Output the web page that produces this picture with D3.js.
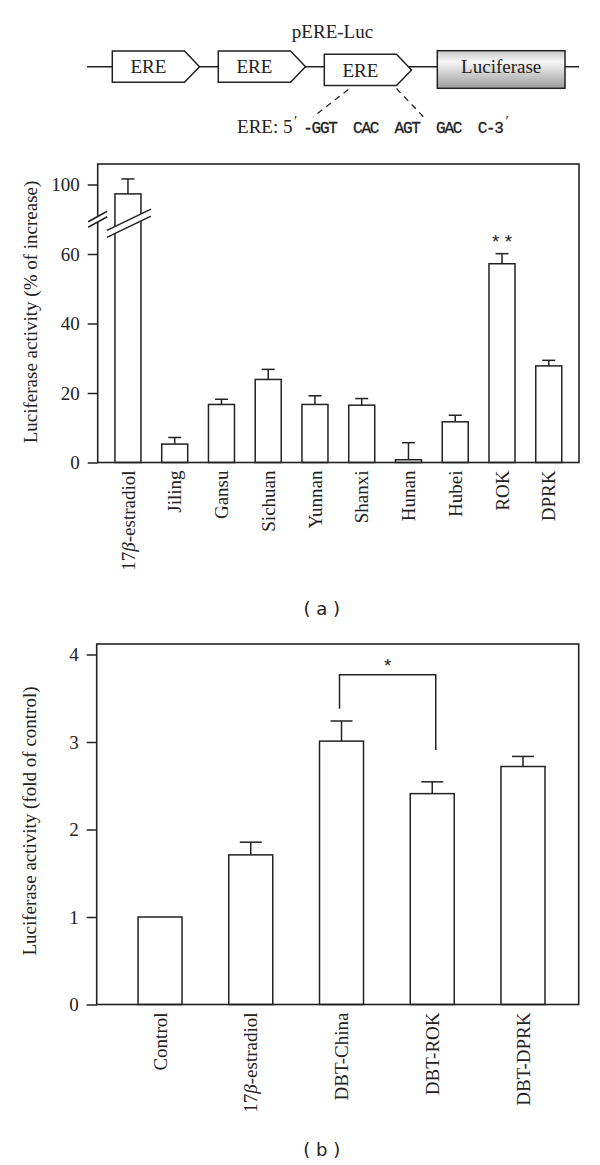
<!DOCTYPE html>
<html><head><meta charset="utf-8">
<script src="https://cdn.jsdelivr.net/npm/d3@7"></script>
<style>body{margin:0;background:#fff}svg{display:block}</style>
</head><body>
<svg id="c" width="600" height="1165"></svg>
<script>
// ---------- data ----------
const catsA = ["17β-estradiol","Jiling","Gansu","Sichuan","Yunnan","Shanxi","Hunan","Hubei","ROK","DPRK"];
const valsA = [97.3, 5.3, 16.7, 23.9, 16.7, 16.5, 0.8, 11.7, 57.2, 27.8];
const errA  = [4.3, 1.9, 1.5, 2.9, 2.5, 1.9, 4.9, 1.9, 2.9, 1.6];
const ticksA = [0, 20, 40, 60, 100];
const starsA = [{cat:"ROK", value:64.7, label:"* *"}];

const catsB = ["Control","17β-estradiol","DBT-China","DBT-ROK","DBT-DPRK"];
const valsB = [1.0, 1.71, 3.01, 2.41, 2.72];
const errB  = [0, 0.145, 0.23, 0.135, 0.115];
const ticksB = [0, 1, 2, 3, 4];
const bracketB = {from:"DBT-China", to:"DBT-ROK", top:3.77, leftEnd:3.38, rightEnd:2.91, starAt:3.92, label:"*"};

const constructParts = ["ERE","ERE","ERE","Luciferase"];
const constructName = "pERE-Luc";
const ereSeq = "-GGT  CAC  AGT  GAC  C-3";

// ---------- setup ----------
const svg = d3.select("#c");
const ink = "#222";
const serif = "'Liberation Serif','Times New Roman',serif";
const sans = "'DejaVu Sans',Verdana,sans-serif";

function labelText(sel, s){
  const parts = s.split("β");
  sel.text(null);
  parts.forEach((p,i)=>{
    if(i>0) sel.append("tspan").attr("font-style","italic").text("β");
    if(p) sel.append("tspan").text(p);
  });
}

// ---------- construct diagram ----------
const defs = svg.append("defs");
const lg = defs.append("linearGradient").attr("id","lucg").attr("x1",0).attr("y1",0).attr("x2",0).attr("y2",1);
lg.append("stop").attr("offset","0%").attr("stop-color","#c9c9c9");
lg.append("stop").attr("offset","30%").attr("stop-color","#f6f6f6");
lg.append("stop").attr("offset","100%").attr("stop-color","#9c9c9c");

const dg = svg.append("g");
dg.append("line").attr("x1",87).attr("x2",579).attr("y1",66.7).attr("y2",66.7)
  .attr("stroke",ink).attr("stroke-width",1.5);
dg.append("text").attr("x",332.5).attr("y",37.5).attr("text-anchor","middle")
  .attr("font-family",serif).attr("font-size",19).attr("fill",ink).text(constructName);

constructParts.forEach((name,i)=>{
  if(name === "ERE"){
    const x0 = 112.3 + i*106, w = 87.2, tipW = 15, h = 31.3;
    const dy = i===2 ? 3.3 : 0;
    const top = 51 + dy, bot = top + h, mid = (top+bot)/2;
    dg.append("path")
      .attr("d",`M${x0},${top}L${x0+w-tipW},${top}L${x0+w},${mid}L${x0+w-tipW},${bot}L${x0},${bot}Z`)
      .attr("fill","#fff").attr("stroke",ink).attr("stroke-width",1.5);
    dg.append("text").attr("x",x0+(w-tipW)/2).attr("y",mid+6.6).attr("text-anchor","middle")
      .attr("font-family",serif).attr("font-size",19).attr("fill",ink).text(name);
  } else {
    dg.append("rect").attr("x",437.3).attr("y",50.7).attr("width",127.7).attr("height",37.6)
      .attr("fill","url(#lucg)").attr("stroke",ink).attr("stroke-width",1.5);
    dg.append("text").attr("x",501.2).attr("y",72.7).attr("text-anchor","middle")
      .attr("font-family",serif).attr("font-size",19).attr("fill",ink).text(name);
  }
});
// dashed zoom lines from third ERE
dg.append("line").attr("x1",348.3).attr("y1",89.5).attr("x2",313.3).attr("y2",116.7)
  .attr("stroke",ink).attr("stroke-width",1.3).attr("stroke-dasharray","6,5");
dg.append("line").attr("x1",396.5).attr("y1",88.5).attr("x2",423.3).attr("y2",116.7)
  .attr("stroke",ink).attr("stroke-width",1.3).attr("stroke-dasharray","6,5");
// sequence
dg.append("text").attr("x",292.5).attr("y",133).attr("text-anchor","end")
  .attr("font-family",serif).attr("font-size",19).attr("fill",ink).text("ERE: 5");
dg.append("text").attr("x",294).attr("y",126).attr("font-family",serif).attr("font-size",15).attr("fill",ink).text("′");
dg.append("text").attr("x",303.3).attr("y",133).attr("xml:space","preserve").style("white-space","pre")
  .attr("font-family","'Liberation Mono','DejaVu Sans Mono',monospace").attr("font-size",16)
  .attr("letter-spacing","-1.3px").attr("stroke",ink).attr("stroke-width",0.3)
  .attr("fill",ink).text(ereSeq);
dg.append("text").attr("x",505.5).attr("y",126).attr("font-family",serif).attr("font-size",15).attr("fill",ink).text("′");

// ---------- panel (a) ----------
const A = {l:97.7, r:579, t:164, b:462.5};
const breakLo = 70, breakHi = 90, topA = 105.9;
const kA = (A.b - A.t) / (topA - (breakHi - breakLo));
const yBrk = A.b - breakLo*kA;
const xA = d3.scalePoint().domain(catsA).range([A.l, A.r]).padding(0.647);
const yA = d3.scaleLinear().domain([0, breakLo, breakHi, topA]).range([A.b, yBrk, yBrk, A.t]);
const bwA = 26;
const ga = svg.append("g");

// bars
ga.selectAll("rect.bar").data(catsA).join("rect").attr("class","bar")
  .attr("x",d=>xA(d)-bwA/2).attr("width",bwA)
  .attr("y",(d,i)=>yA(valsA[i])).attr("height",(d,i)=>yA(0)-yA(valsA[i]))
  .attr("fill","#fff").attr("stroke",ink).attr("stroke-width",1.5);
// error bars
ga.selectAll("line.err").data(catsA).join("line").attr("class","err")
  .attr("x1",d=>xA(d)).attr("x2",d=>xA(d))
  .attr("y1",(d,i)=>yA(valsA[i])).attr("y2",(d,i)=>yA(valsA[i]+errA[i]))
  .attr("stroke",ink).attr("stroke-width",1.5);
ga.selectAll("line.cap").data(catsA).join("line").attr("class","cap")
  .attr("x1",d=>xA(d)-bwA/4).attr("x2",d=>xA(d)+bwA/4)
  .attr("y1",(d,i)=>yA(valsA[i]+errA[i])).attr("y2",(d,i)=>yA(valsA[i]+errA[i]))
  .attr("stroke",ink).attr("stroke-width",1.5);

// frame
ga.append("rect").attr("x",A.l).attr("y",A.t).attr("width",A.r-A.l).attr("height",A.b-A.t)
  .attr("fill","none").attr("stroke",ink).attr("stroke-width",1.6);

// break marks helper
function breakMark(g, cx, cy, halfW, slope, gap){
  const p = (ox, oy) => [cx+ox, cy+oy];
  const a1 = p(-halfW, -gap/2 - slope*(-halfW)), a2 = p(halfW, -gap/2 - slope*halfW);
  const b1 = p(-halfW, gap/2 - slope*(-halfW)), b2 = p(halfW, gap/2 - slope*halfW);
  g.append("path").attr("d",`M${a1}L${a2}L${b2}L${b1}Z`).attr("fill","#fff").attr("stroke","none");
  g.append("line").attr("x1",a1[0]).attr("y1",a1[1]).attr("x2",a2[0]).attr("y2",a2[1]).attr("stroke",ink).attr("stroke-width",1.5);
  g.append("line").attr("x1",b1[0]).attr("y1",b1[1]).attr("x2",b2[0]).attr("y2",b2[1]).attr("stroke",ink).attr("stroke-width",1.5);
}
breakMark(ga, A.l, yBrk, 9.5, 0.55, 5.5);
breakMark(ga, xA(catsA[0])+1, yBrk+4, 22, 0.48, 7);

// y axis
const axA = ga.append("g").attr("transform",`translate(${A.l},0)`)
  .call(d3.axisLeft(yA).tickValues(ticksA).tickSize(10).tickPadding(8).tickFormat(d3.format("d")));
axA.select(".domain").remove();
axA.selectAll("line").attr("stroke",ink).attr("stroke-width",1.5);
axA.selectAll("text").attr("font-family",serif).attr("font-size",19).attr("fill",ink);

// x labels
ga.selectAll("text.xl").data(catsA).join("text").attr("class","xl")
  .attr("transform",d=>`translate(${xA(d)},${A.b+8}) rotate(-90)`)
  .attr("text-anchor","end").attr("dy","0.35em")
  .attr("font-family",serif).attr("font-size",19).attr("fill",ink)
  .each(function(d){ labelText(d3.select(this), d); });

// y title
ga.append("text").attr("transform",`translate(37,312) rotate(-90)`).attr("text-anchor","middle")
  .attr("font-family",serif).attr("font-size",19).attr("fill",ink)
  .text("Luciferase activity (% of increase)");

// stars
starsA.forEach(s=>{
  ga.append("text").attr("x",xA(s.cat)).attr("y",yA(s.value)+10.5).attr("text-anchor","middle")
    .attr("xml:space","preserve").style("white-space","pre")
    .attr("font-family","'Liberation Sans',Arial,sans-serif").attr("font-size",19).attr("fill",ink).text(s.label);
});

ga.append("text").attr("x",321.7).attr("y",614.5).attr("text-anchor","middle")
  .attr("xml:space","preserve").style("white-space","pre")
  .attr("font-family",sans).attr("font-size",18).attr("fill",ink).text("( a )");

// ---------- panel (b) ----------
const B = {l:96.7, r:578.7, t:644, b:1004.5};
const xB = d3.scalePoint().domain(catsB).range([B.l, B.r]).padding(0.656).align(0.532);
const yB = d3.scaleLinear().domain([0, 4.12]).range([B.b, B.t]);
const bwB = 44;
const gb = svg.append("g");

gb.selectAll("rect.bar").data(catsB).join("rect").attr("class","bar")
  .attr("x",d=>xB(d)-bwB/2).attr("width",bwB)
  .attr("y",(d,i)=>yB(valsB[i])).attr("height",(d,i)=>yB(0)-yB(valsB[i]))
  .attr("fill","#fff").attr("stroke",ink).attr("stroke-width",1.5);
const withErr = catsB.filter((d,i)=>errB[i]>0);
gb.selectAll("line.err").data(withErr).join("line").attr("class","err")
  .attr("x1",d=>xB(d)).attr("x2",d=>xB(d))
  .attr("y1",d=>yB(valsB[catsB.indexOf(d)])).attr("y2",d=>{const i=catsB.indexOf(d);return yB(valsB[i]+errB[i]);})
  .attr("stroke",ink).attr("stroke-width",1.5);
gb.selectAll("line.cap").data(withErr).join("line").attr("class","cap")
  .attr("x1",d=>xB(d)-bwB/4).attr("x2",d=>xB(d)+bwB/4)
  .attr("y1",d=>{const i=catsB.indexOf(d);return yB(valsB[i]+errB[i]);})
  .attr("y2",d=>{const i=catsB.indexOf(d);return yB(valsB[i]+errB[i]);})
  .attr("stroke",ink).attr("stroke-width",1.5);

gb.append("rect").attr("x",B.l).attr("y",B.t).attr("width",B.r-B.l).attr("height",B.b-B.t)
  .attr("fill","none").attr("stroke",ink).attr("stroke-width",1.6);

const axB = gb.append("g").attr("transform",`translate(${B.l},0)`)
  .call(d3.axisLeft(yB).tickValues(ticksB).tickSize(10).tickPadding(8).tickFormat(d3.format("d")));
axB.select(".domain").remove();
axB.selectAll("line").attr("stroke",ink).attr("stroke-width",1.5);
axB.selectAll("text").attr("font-family",serif).attr("font-size",19).attr("fill",ink);

gb.selectAll("text.xl").data(catsB).join("text").attr("class","xl")
  .attr("transform",d=>`translate(${xB(d)},${B.b+8}) rotate(-90)`)
  .attr("text-anchor","end").attr("dy","0.35em")
  .attr("font-family",serif).attr("font-size",19).attr("fill",ink)
  .each(function(d){ labelText(d3.select(this), d); });

gb.append("text").attr("transform",`translate(35.5,821) rotate(-90)`).attr("text-anchor","middle")
  .attr("font-family",serif).attr("font-size",19).attr("fill",ink)
  .text("Luciferase activity (fold of control)");

// significance bracket
const bx1 = xB(bracketB.from) - 2, bx2 = xB(bracketB.to) + 3.5;
gb.append("path")
  .attr("d",`M${bx1},${yB(bracketB.leftEnd)}L${bx1},${yB(bracketB.top)}L${bx2},${yB(bracketB.top)}L${bx2},${yB(bracketB.rightEnd)}`)
  .attr("fill","none").attr("stroke",ink).attr("stroke-width",1.5);
gb.append("text").attr("x",(bx1+bx2)/2).attr("y",yB(bracketB.starAt)+10.5).attr("text-anchor","middle")
  .attr("font-family","'Liberation Sans',Arial,sans-serif").attr("font-size",19).attr("fill",ink).text(bracketB.label);

gb.append("text").attr("x",321.7).attr("y",1156).attr("text-anchor","middle")
  .attr("xml:space","preserve").style("white-space","pre")
  .attr("font-family",sans).attr("font-size",18).attr("fill",ink).text("( b )");
</script>
</body></html>
